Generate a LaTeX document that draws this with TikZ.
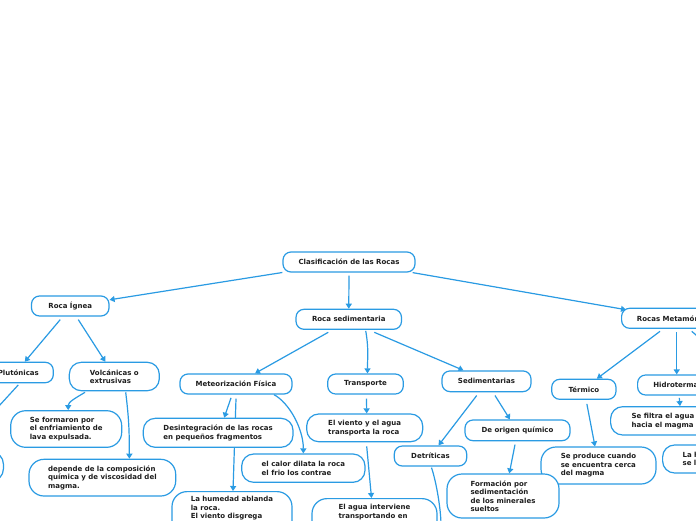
\documentclass[tikz,border=0pt]{standalone}
\usepackage{fontspec}
\setmainfont{DejaVu Sans}
\usetikzlibrary{arrows.meta}
\definecolor{mblue}{RGB}{42,155,227}
\definecolor{mtext}{RGB}{30,30,30}
\pgfdeclarelayer{bg}
\pgfsetlayers{bg,main}
\tikzset{
 box/.style={draw=mblue, line width=1.2pt, fill=white, rounded corners=8pt, text=mtext,
   font=\bfseries\fontsize{7pt}{8.5pt}\selectfont, align=left, inner sep=0pt, minimum height=20pt},
 tall/.style={rounded corners=12pt},
 big/.style={rounded corners=15pt},
 link/.style={draw=mblue, line width=1.2pt, -{Triangle[length=5pt,width=6pt]}},
}
\begin{document}
\begin{tikzpicture}[x=1pt,y=-1pt]
\useasboundingbox (0,0) rectangle (696,520);
\begin{scope}
\clip (0,0) rectangle (696,520);
\node[box,minimum width=132pt] (clasif) at (349,262) {Clasificación de las Rocas};
\node[box,minimum width=77.5pt] (ignea) at (70.25,306) {Roca Ígnea};
\node[box,minimum width=105.5pt] (sedi) at (348.75,319.3) {Roca sedimentaria};
\node[box,anchor=west,minimum width=110pt] (meta) at (621,318.3) {Rocas Metamórficas};
\node[box,minimum width=70pt,minimum height=20.4pt] (pluto) at (18.3,372.5) {Plutónicas};
\node[box,tall,minimum width=90pt,minimum height=28.4pt] (volc) at (114.3,376.5) {Volcánicas o\\extrusivas};
\node[box,minimum width=112pt] (meteo) at (236,384) {Meteorización Física};
\node[box,minimum width=75.6pt] (transp) at (365.5,384) {Transporte};
\node[box,minimum width=89pt,minimum height=20.7pt] (sedim) at (486.5,381.3) {Sedimentarias};
\node[box,minimum width=64.3pt] (termico) at (583.85,389.3) {Térmico};
\node[box,anchor=west,minimum width=79pt] (hidro) at (637,385) {Hidrotermal};
\node[box,big,minimum width=111pt,minimum height=36.6pt] (seform) at (66.2,429) {Se formaron por\\el enfriamiento de\\lava expulsada.};
\node[box,tall,minimum width=149.7pt,minimum height=29pt] (desint) at (218.15,432.8) {Desintegración de las rocas\\en pequeños fragmentos};
\node[box,tall,minimum width=116pt,minimum height=27.7pt] (viento) at (364.7,427.85) {El viento y el agua\\transporta la roca};
\node[box,minimum width=105pt,minimum height=20.7pt] (quimico) at (517.5,430.35) {De origen químico};
\node[box,tall,anchor=west,minimum width=112pt,minimum height=28.3pt] (filtra) at (610,420.85) {Se filtra el agua a\\hacia el magma};
\node[box,tall,anchor=east,minimum width=80pt,minimum height=29pt] (leftn) at (4,466.5) {};
\node[box,tall,minimum width=123.3pt,minimum height=28.3pt] (calor) at (303.35,468.15) {el calor dilata la roca\\el frio los contrae};
\node[box,minimum width=72.4pt] (detrit) at (430.5,456) {Detríticas};
\node[box,big,minimum width=115pt,minimum height=37pt] (produce) at (598.5,465.5) {Se produce cuando\\se encuentra cerca\\del magma};
\node[box,tall,anchor=west,minimum height=28pt,text width=60pt,inner xsep=20pt] (lah) at (662,459) {La h\\se l};
\node[box,big,minimum width=146.7pt,minimum height=36.7pt] (depende) at (102.35,477.65) {depende de la composición\\química y de viscosidad del\\magma.};
\node[box,big,minimum width=112pt,minimum height=44pt] (formacion) at (503,496) {Formación por\\sedimentación\\de los minerales\\sueltos};
\node[box,big,anchor=north,minimum width=120pt,inner ysep=4.7pt,text depth=40pt] (humedad) at (232,491) {La humedad ablanda\\la roca.\\El viento disgrega};
\node[box,big,anchor=north,minimum width=125pt,inner ysep=5.7pt,text depth=40pt] (agua) at (374.5,498) {El agua interviene\\transportando en};
\end{scope}
\begin{pgfonlayer}{bg}
\fill[white] (0,0) rectangle (696,520);
\clip (0,0) rectangle (696,520);
\coordinate (metachild) at (716,352);
\coordinate (detchild) at (441,530);
\draw[link] (clasif) -- (ignea);
\draw[link] ([yshift=-3pt]clasif.south) -- (sedi.north);
\draw[link] ([xshift=-3pt]clasif.south east) -- ([xshift=5pt,yshift=-2pt]meta.north west);
\draw[link] ([xshift=-10pt,yshift=-3pt]ignea.south) -- ([xshift=6.5pt]pluto.north);
\draw[link] ([xshift=8pt,yshift=-3pt]ignea.south) -- ([xshift=-9pt]volc.north);
\draw[link] ([xshift=-20.5pt,yshift=-2.4pt]sedi.south) -- ([xshift=19pt]meteo.north);
\draw[link] ([xshift=17pt,yshift=-1pt]sedi.south) .. controls +(3,18) and +(0,-18) .. ([xshift=2pt]transp.north);
\draw[link] ([xshift=25.5pt,yshift=-2.4pt]sedi.south) -- ([xshift=-23pt]sedim.north);
\draw[link] ([xshift=39pt,yshift=-2.4pt]meta.south west) -- ([xshift=13pt]termico.north);
\draw[link] ([xshift=55.7pt,yshift=-3.4pt]meta.south west) -- ([xshift=39.7pt]hidro.north west);
\draw[link] ([xshift=70.7pt,yshift=-2.4pt]meta.south west) -- (metachild);
\draw[link] ([xshift=0pt,yshift=-1.6pt]pluto.south) -- ([xshift=-6pt]leftn.north);
\draw[link] ([xshift=-29.3pt,yshift=-1pt]volc.south) .. controls +(-10,6) and +(0,-8) .. ([xshift=2pt]seform.north);
\draw[link] ([xshift=11.4pt,yshift=-1pt]volc.south) .. controls +(3,25) and +(0,-30) .. ([xshift=27pt]depende.north);
\draw[link] ([xshift=-5pt,yshift=-3.3pt]meteo.south) -- ([xshift=6pt]desint.north);
\draw[link] ([yshift=-4pt]meteo.south) -- ([xshift=1pt]humedad.north);
\draw[link] ([xshift=-18.7pt]meteo.south east) .. controls +(15,8) and +(0,-25) .. (calor.north);
\draw[link] ([xshift=1pt,yshift=-4pt]transp.south) -- ([xshift=2pt]viento.north);
\draw[link] ([xshift=2pt,yshift=-4pt]viento.south) -- ([xshift=-3pt]agua.north);
\draw[link] ([xshift=-9.8pt,yshift=-3.3pt]sedim.south) -- ([xshift=8pt]detrit.north);
\draw[link] ([xshift=8.5pt,yshift=-3.3pt]sedim.south) -- ([xshift=-7.5pt]quimico.north);
\draw[link] ([xshift=-2.5pt,yshift=-3.3pt]quimico.south) -- ([xshift=6.3pt]formacion.north);
\draw[link] ([xshift=1pt,yshift=-1pt]detrit.south) .. controls +(5,15) and +(0,-20) .. (detchild);
\draw[link] ([xshift=3pt,yshift=-4pt]termico.south) -- ([xshift=-3.5pt]produce.north);
\draw[link] ([xshift=42.3pt,yshift=-2.3pt]hidro.south west) -- ([xshift=70pt]filtra.north west);
\end{pgfonlayer}
\end{tikzpicture}
\end{document}
